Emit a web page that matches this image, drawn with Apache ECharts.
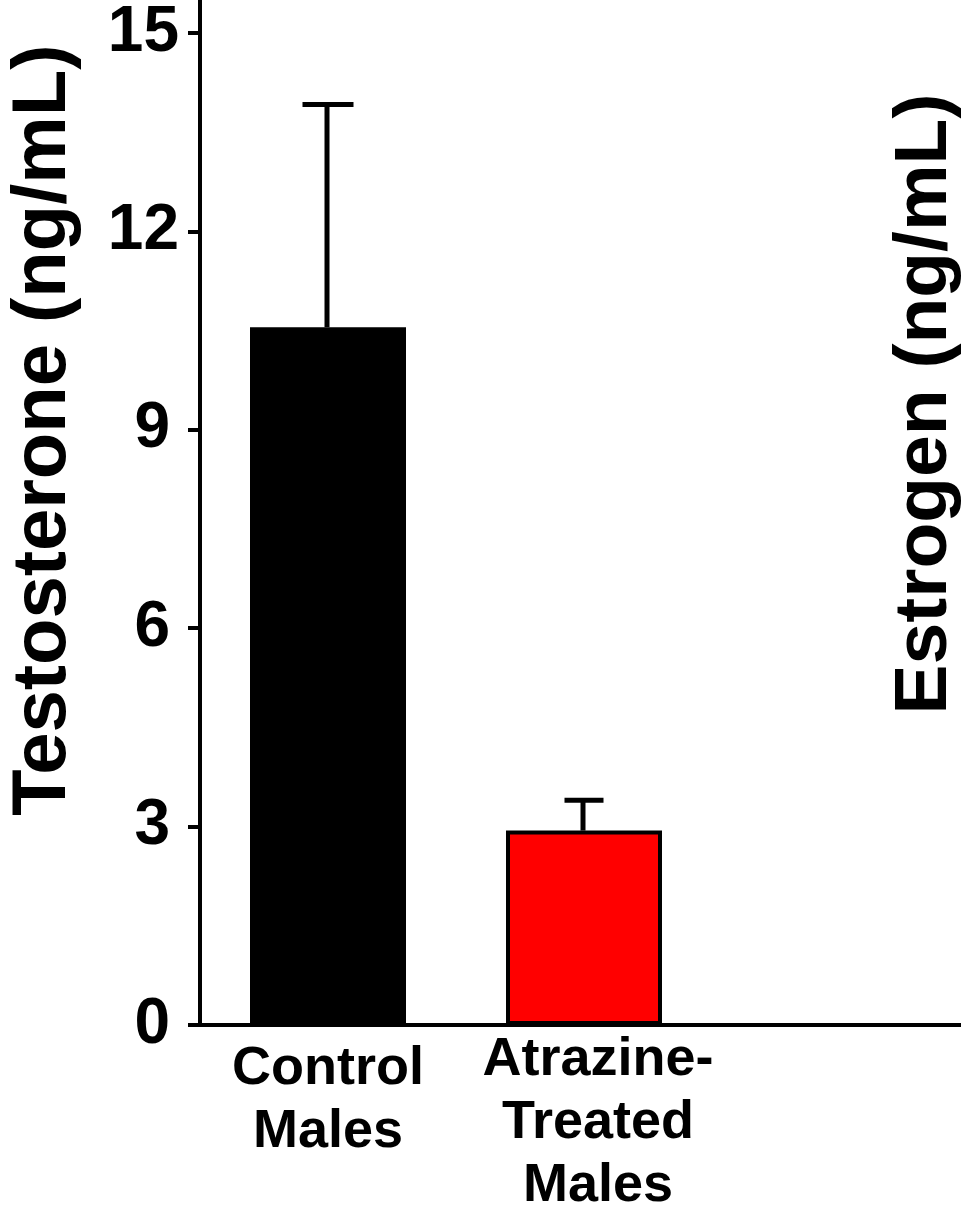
<!DOCTYPE html>
<html>
<head>
<meta charset="utf-8">
<style>
  html, body { margin: 0; padding: 0; background: #ffffff; }
  #chart { width: 961px; height: 1210px; }
</style>
<script src="https://cdn.jsdelivr.net/npm/echarts@6/dist/echarts.min.js"></script>
</head>
<body>
<div id="chart"></div>
<script>
// ---- data ----
const categories = ['Control\nMales', 'Atrazine-\nTreated\nMales', ''];
const means = [10.55, 2.94];
const errorTops = [13.92, 3.40];
const yTicks = [0, 3, 6, 9, 12, 15];
const yAxisTitle = 'Testosterone (ng/mL)';
const secondAxisTitle = 'Estrogen (ng/mL)';

// ---- styles ----
const barColors = ['#000000', '#ff0000'];
const capWidths = [51, 39];
const labelPads = [[9, 0, 0, 0], [0, 0, 0, 28], [0, 0, 0, 0]];
const FONT = '"Liberation Sans", Arial, Helvetica, sans-serif';

const chart = echarts.init(document.getElementById('chart'), null, { renderer: 'canvas' });

const barData = means.map((v, i) => ({
  value: v,
  itemStyle: { color: barColors[i], borderColor: '#000', borderWidth: 4 }
}));
const errData = means.map((v, i) => [i, v, errorTops[i]]);

const tickFont = { fontFamily: FONT, fontWeight: 'bold', fontSize: 64, color: '#000' };

const option = {
  animation: false,
  backgroundColor: '#ffffff',
  grid: { left: 200, top: 0, width: 768, bottom: 185, containLabel: false, outerBoundsMode: 'none' },
  xAxis: {
    type: 'category',
    data: categories.map((c, i) => ({ value: c, textStyle: { padding: labelPads[i] } })),
    boundaryGap: true,
    axisLine: { show: true, lineStyle: { color: '#000', width: 4 } },
    axisTick: { show: false },
    axisLabel: {
      interval: 0,
      margin: 4,
      color: '#000',
      fontFamily: FONT,
      fontWeight: 'bold',
      fontSize: 54,
      lineHeight: 63,
      verticalAlign: 'top'
    },
    splitLine: { show: false }
  },
  yAxis: {
    type: 'value',
    min: 0,
    max: 15.5,
    interval: 3,
    axisLine: { show: true, onZero: false, lineStyle: { color: '#000', width: 4 } },
    axisTick: { show: true, inside: false, length: 12, customValues: yTicks, lineStyle: { color: '#000', width: 4 } },
    axisLabel: {
      customValues: yTicks,
      margin: 21,
      color: '#000',
      fontFamily: FONT,
      fontWeight: 'bold',
      fontSize: 64,
      formatter: function (v) { return v >= 10 ? '{d|' + v + '}' : '{s|' + v + '}'; },
      rich: {
        d: Object.assign({}, tickFont),
        s: Object.assign({ padding: [0, 9, 0, 0] }, tickFont)
      }
    },
    splitLine: { show: false }
  },
  series: [
    {
      type: 'bar',
      data: barData,
      barWidth: 156,
      z: 2
    },
    {
      type: 'custom',
      data: errData,
      z: 3,
      renderItem: function (params, api) {
        const idx = api.value(0);
        const base = api.coord([idx, api.value(1)]);
        const top = api.coord([idx, api.value(2)]);
        const half = capWidths[params.dataIndex] / 2;
        return {
          type: 'group',
          children: [
            { type: 'line', shape: { x1: base[0] - 1, y1: base[1], x2: top[0] - 1, y2: top[1] },
              style: { stroke: '#000', lineWidth: 5 } },
            { type: 'line', shape: { x1: top[0] - half, y1: top[1], x2: top[0] + half, y2: top[1] },
              style: { stroke: '#000', lineWidth: 5 } }
          ]
        };
      }
    }
  ],
  graphic: [
    {
      type: 'text',
      x: 44, y: 430,
      rotation: Math.PI / 2,
      style: {
        text: yAxisTitle,
        font: 'bold 76px ' + FONT,
        fill: '#000',
        textAlign: 'center',
        textVerticalAlign: 'middle'
      }
    },
    {
      type: 'text',
      x: 925, y: 404,
      rotation: Math.PI / 2,
      style: {
        text: secondAxisTitle,
        font: 'bold 75px ' + FONT,
        fill: '#000',
        textAlign: 'center',
        textVerticalAlign: 'middle'
      }
    }
  ]
};
chart.setOption(option);
</script>
</body>
</html>
